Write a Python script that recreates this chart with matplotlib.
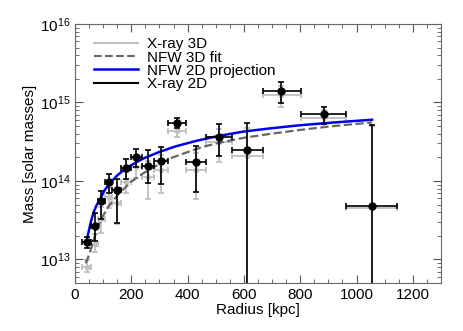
import numpy as np
import matplotlib
matplotlib.use("Agg")
import matplotlib.pyplot as plt
from matplotlib.ticker import MultipleLocator, LogLocator, NullFormatter

plt.rcParams['font.family'] = ['Liberation Sans', 'DejaVu Sans']
plt.rcParams['mathtext.fontset'] = 'custom'
plt.rcParams['mathtext.rm'] = 'Liberation Sans'

# radial bins [kpc]
edges = [25, 58, 82, 105, 132, 165, 200, 238, 280, 332, 394, 467, 556, 667, 801, 962, 1145]
radius = [41.5, 70, 92, 119.5, 148, 180, 218, 258, 306, 363, 430, 511, 611, 733, 883, 1055]

# X-ray 2D (log10 mass, upper, lower)
m2d = [13.224, 13.43, 13.74, 13.99, 13.88, 14.16, 14.31, 14.19, 14.256, 14.733, 14.243, 14.56, 14.40, 15.144, 14.847, 13.683]
m2d_hi = [13.29, 13.586, 13.87, 14.09, 14.02, 14.28, 14.41, 14.39, 14.43, 14.80, 14.44, 14.72, 14.74, 15.255, 14.944, 14.71]
m2d_lo = [13.15, 13.24, 13.52, 13.84, 13.46, 14.02, 14.18, 13.97, 13.96, 14.67, 13.86, 14.32, 10.0, 14.995, 14.73, 10.0]

# X-ray 3D
m3d = [12.915, 13.2, 13.52, 13.80, 13.72, 13.99, 14.18, 14.06, 14.15, 14.64, 14.15, 14.50, 14.32, 15.10, 14.81, 13.66]
m3d_hi = [13.0, 13.33, 13.67, 13.92, 13.88, 14.12, 14.30, 14.26, 14.33, 14.71, 14.36, 14.67, 14.68, 15.22, 14.91, 14.70]
m3d_lo = [12.85, 13.1, 13.35, 13.66, 13.46, 13.86, 14.05, 13.78, 13.86, 14.57, 13.78, 14.25, 10.0, 14.95, 14.70, 10.0]

# NFW curves
nfw2d_r = [44, 50, 58, 67, 78, 91, 105, 121, 150, 180, 239, 300, 357, 430, 505, 600, 694, 800, 920, 1055]
nfw2d_m = [13.28, 13.38, 13.50, 13.61, 13.70, 13.78, 13.88, 13.96, 14.07, 14.16, 14.28, 14.37, 14.44, 14.51, 14.57, 14.63, 14.67, 14.71, 14.745, 14.78]
nfw3d_r = [38, 47, 56, 68, 82, 97, 120, 156, 200, 239, 292, 340, 386, 450, 505, 600, 694, 800, 920, 1055]
nfw3d_m = [12.95, 13.03, 13.12, 13.27, 13.42, 13.54, 13.68, 13.84, 13.99, 14.09, 14.20, 14.29, 14.35, 14.43, 14.48, 14.55, 14.60, 14.65, 14.70, 14.745]

r = np.array(radius)
xlo = r - np.array(edges[:-1])
xhi = np.array(edges[1:]) - r


def to_err(m, hi, lo):
    y = 10 ** np.array(m)
    return y, np.vstack([y - 10 ** np.array(lo), 10 ** np.array(hi) - y])


y3, e3 = to_err(m3d, m3d_hi, m3d_lo)
y2, e2 = to_err(m2d, m2d_hi, m2d_lo)

fig = plt.figure(figsize=(4.63, 3.31), dpi=100)
ax = fig.add_axes([0.162, 0.145, 0.7905, 0.7825])

ax.errorbar(r, y3 * 0.985, yerr=e3, xerr=[xlo, xhi], fmt='o', color='#c0c0c0',
            ms=3, lw=1.3, capsize=2, capthick=1.3, zorder=2)
ax.plot(nfw3d_r, 10 ** np.array(nfw3d_m), '--', color='#666666', lw=1.6, zorder=3)
ax.plot(nfw2d_r, 10 ** np.array(nfw2d_m), '-', color='#0000ee', lw=1.8, zorder=4)
ax.errorbar(r, y2, yerr=e2, xerr=[xlo, xhi], fmt='o', color='black',
            ms=5, lw=1.2, capsize=2, capthick=1.2, zorder=5)

# legend handles
ax.plot([], [], color='#c0c0c0', lw=1.5, label='X-ray 3D')
ax.plot([], [], '--', color='#666666', lw=1.5, label='NFW 3D fit')
ax.plot([], [], color='#0000ee', lw=1.8, label='NFW 2D projection')
ax.plot([], [], color='black', lw=1.5, label='X-ray 2D')
h, l = ax.get_legend_handles_labels()
ax.legend(h[-4:], l[-4:], loc='upper left', frameon=False, fontsize=11,
          handlelength=2.9, labelspacing=-0.05, handletextpad=0.6,
          borderaxespad=0.0, bbox_to_anchor=(0.035, 0.972))

ax.set_yscale('log')
ax.set_xlim(0, 1300)
ax.set_ylim(5e12, 1e16)
ax.xaxis.set_major_locator(MultipleLocator(200))
ax.xaxis.set_minor_locator(MultipleLocator(50))
ax.yaxis.set_major_locator(LogLocator(base=10, numticks=10))
ax.yaxis.set_minor_locator(LogLocator(base=10, subs=np.arange(2, 10), numticks=20))
ax.yaxis.set_minor_formatter(NullFormatter())
ax.tick_params(which='both', direction='in', top=True, right=True, color='#555555', labelsize=11)
ax.tick_params(which='major', length=6)
ax.tick_params(which='minor', length=3)
for s in ax.spines.values():
    s.set_color('#666666')

ax.set_xlabel('Radius [kpc]', fontsize=11, labelpad=1)
ax.set_ylabel('Mass [solar masses]', fontsize=11, labelpad=2)

fig.savefig('out.png', dpi=100)
